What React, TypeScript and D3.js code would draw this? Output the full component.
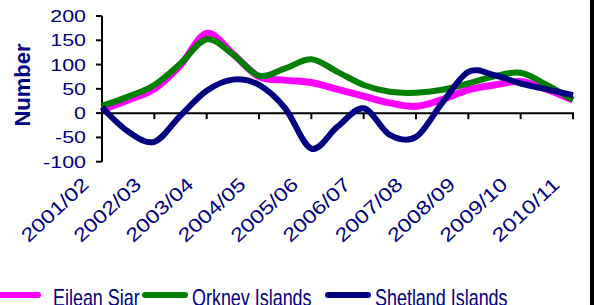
import React, { useEffect, useRef } from "react";
import * as d3 from "d3";

// tick labels (one every second half-year point)
const years = [
  "2001/02", "2002/03", "2003/04", "2004/05", "2005/06",
  "2006/07", "2007/08", "2008/09", "2009/10", "2010/11",
];

// values, 19 points (labelled + midway points)
const eileanSiar = [7, 27, 50, 99, 164, 122, 75, 68, 63, 49, 35, 21, 14, 28, 48, 58, 65, 49, 27];
const orkneyIslands = [15, 34, 58, 102, 152, 121, 77, 92, 111, 85, 58, 44, 42, 48, 61, 76, 83, 58, 27];
const shetlandIslands = [12, -38, -59, -5, 46, 69, 58, 10, -73, -28, 10, -45, -49, 21, 85, 78, 61, 49, 37];

const yTicks = [-100, -50, 0, 50, 100, 150, 200];

const seriesNames = ["Eilean Siar", "Orkney Islands", "Shetland Islands"];
const seriesColors = ["#ff00ff", "#008000", "#000080"];

const App = () => {
  const svgRef = useRef(null);

  useEffect(() => {
    const width = 594,
      height = 305;
    const svg = d3.select(svgRef.current);
    svg.selectAll("*").remove();
    svg.attr("width", width).attr("height", height);

    const navy = "#000080";
    const font = "Arial, 'Liberation Sans', sans-serif";

    const x = d3.scaleLinear([0, eileanSiar.length - 1], [102, 573]);
    const y = d3.scaleLinear([-100, 200], [161.7, 16]);

    // y axis
    svg
      .append("line")
      .attr("x1", 102)
      .attr("x2", 102)
      .attr("y1", y(200))
      .attr("y2", y(-100))
      .attr("stroke", "black")
      .attr("stroke-width", 2);
    yTicks.forEach((t) => {
      svg
        .append("line")
        .attr("x1", 96)
        .attr("x2", 102)
        .attr("y1", y(t))
        .attr("y2", y(t))
        .attr("stroke", "black")
        .attr("stroke-width", 2);
      svg
        .append("text")
        .attr("transform", `translate(86,${y(t) + 6}) scale(1.3,1)`)
        .attr("text-anchor", "end")
        .attr("font-family", font)
        .attr("font-size", 16.5)
        .attr("fill", navy)
        .text(t);
    });

    // axis title
    svg
      .append("text")
      .attr("transform", `translate(30,85) rotate(-90)`)
      .attr("text-anchor", "middle")
      .attr("font-family", font)
      .attr("font-weight", "bold")
      .attr("font-size", 22)
      .attr("fill", navy)
      .text("Number");

    // x axis on zero line
    svg
      .append("line")
      .attr("x1", 102)
      .attr("x2", 574)
      .attr("y1", y(0))
      .attr("y2", y(0))
      .attr("stroke", "black")
      .attr("stroke-width", 2);
    years.forEach((label, i) => {
      const xp = x(i * 2);
      svg
        .append("line")
        .attr("x1", xp)
        .attr("x2", xp)
        .attr("y1", y(0))
        .attr("y2", y(0) + 6)
        .attr("stroke", "black")
        .attr("stroke-width", 2);
      svg
        .append("text")
        .attr("transform", `translate(${xp - 12},186) rotate(-43)`)
        .attr("text-anchor", "end")
        .attr("font-family", font)
        .attr("font-size", 19)
        .attr("fill", navy)
        .attr("textLength", 84)
        .attr("lengthAdjust", "spacingAndGlyphs")
        .text(label);
    });

    // lines
    const line = d3
      .line()
      .x((d, i) => x(i))
      .y((d) => y(d))
      .curve(d3.curveCardinal.tension(0));
    const widths = [7, 6, 6];
    [eileanSiar, orkneyIslands, shetlandIslands].forEach((s, i) => {
      svg
        .append("path")
        .datum(s)
        .attr("fill", "none")
        .attr("stroke", seriesColors[i])
        .attr("stroke-width", widths[i])
        .attr("stroke-linejoin", "round")
        .attr("d", line);
    });

    // legend
    const swatchX = [-2, 145, 328];
    const textX = [53, 192, 375];
    seriesNames.forEach((name, i) => {
      svg
        .append("line")
        .attr("x1", swatchX[i])
        .attr("x2", swatchX[i] + 40)
        .attr("y1", 295)
        .attr("y2", 295)
        .attr("stroke", seriesColors[i])
        .attr("stroke-width", 6)
        .attr("stroke-linecap", "round");
      svg
        .append("text")
        .attr("transform", `translate(${textX[i]},306) scale(0.78,1)`)
        .attr("font-family", font)
        .attr("font-size", 23)
        .attr("fill", navy)
        .text(name);
    });

    // right border bar
    svg
      .append("rect")
      .attr("x", 590)
      .attr("y", 0)
      .attr("width", 4)
      .attr("height", height)
      .attr("fill", "black");
  }, []);

  return (
    <svg
      ref={svgRef}
      style={{ position: "absolute", left: 0, top: 0, background: "white" }}
    ></svg>
  );
};

export default App;
